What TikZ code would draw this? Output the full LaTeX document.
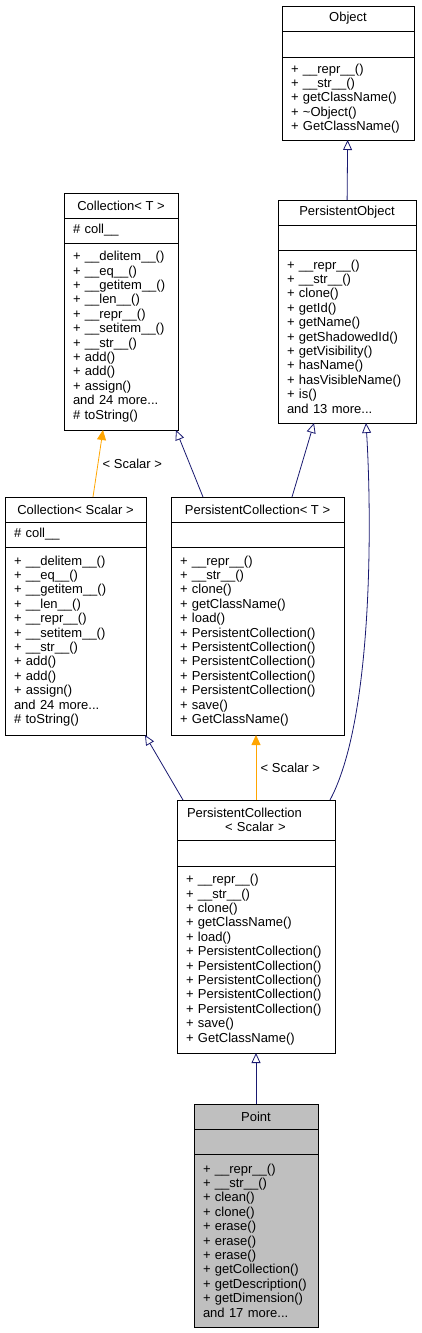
\documentclass[tikz,border=0pt]{standalone}
\usepackage{fontspec}
\setmainfont{Liberation Sans}
\usetikzlibrary{arrows.meta, positioning}

\definecolor{edgeblue}{HTML}{191970}
\definecolor{tmplorange}{HTML}{FFA500}
\definecolor{hilite}{HTML}{BFBFBF}

\begin{document}
\begin{tikzpicture}[x=1pt, y=-1pt,
  font=\fontsize{13}{14.4}\selectfont,
  part/.style={draw=black, line width=0.8pt, outer sep=0pt,
    inner xsep=9pt, inner ysep=0pt},
  head/.style={part, anchor=north west, align=center, minimum height=25pt},
  members/.style={part, align=left},
  inherit/.style={draw=edgeblue, line width=0.8pt,
    -{Triangle[open, length=10pt, width=9pt]}},
  tmpl/.style={draw=tmplorange, line width=0.8pt,
    -{Triangle[length=10pt, width=9pt]}}]

  \useasboundingbox (0,0) rectangle (421,1333);

  % Object (top right).
  \node[head, minimum width=132pt] (objHead) at (282,6) {Object};
  \node[members, below=0pt of objHead, text width=114pt, minimum height=26pt]
    (objAttr) {};
  \node[members, below=0pt of objAttr, text width=114pt, minimum height=83pt]
    (objMeth) {+ \_\_repr\_\_()\\+ \_\_str\_\_()\\+ getClassName()\\
      + \textasciitilde Object()\\+ GetClassName()};

  % PersistentObject.
  \node[head, minimum width=138pt] (poHead) at (278,200) {PersistentObject};
  \node[members, below=0pt of poHead, text width=120pt, minimum height=25pt]
    (poAttr) {};
  \node[members, below=0pt of poAttr, text width=120pt, minimum height=173pt]
    (poMeth) {+ \_\_repr\_\_()\\+ \_\_str\_\_()\\+ clone()\\+ getId()\\
      + getName()\\+ getShadowedId()\\+ getVisibility()\\+ hasName()\\
      + hasVisibleName()\\+ is()\\and 13 more...};

  % Collection< T >.
  \node[head, minimum width=114pt] (collTHead) at (64,193) {Collection< T >};
  \node[members, below=0pt of collTHead, text width=96pt, minimum height=25pt]
    (collTAttr) {\# coll\_\_};
  \node[members, below=0pt of collTAttr, text width=96pt, minimum height=187pt]
    (collTMeth) {+ \_\_delitem\_\_()\\+ \_\_eq\_\_()\\+ \_\_getitem\_\_()\\
      + \_\_len\_\_()\\+ \_\_repr\_\_()\\+ \_\_setitem\_\_()\\+ \_\_str\_\_()\\
      + add()\\+ add()\\+ assign()\\and 24 more...\\\# toString()};

  % Collection< Scalar >.
  \node[head, minimum width=141pt] (collSHead) at (5,497) {Collection< Scalar >};
  \node[members, below=0pt of collSHead, text width=123pt, minimum height=25pt]
    (collSAttr) {\# coll\_\_};
  \node[members, below=0pt of collSAttr, text width=123pt, minimum height=188pt]
    (collSMeth) {+ \_\_delitem\_\_()\\+ \_\_eq\_\_()\\+ \_\_getitem\_\_()\\
      + \_\_len\_\_()\\+ \_\_repr\_\_()\\+ \_\_setitem\_\_()\\+ \_\_str\_\_()\\
      + add()\\+ add()\\+ assign()\\and 24 more...\\\# toString()};

  % PersistentCollection< T >.
  \node[head, minimum width=173pt] (pcTHead) at (171,497)
    {PersistentCollection< T >};
  \node[members, below=0pt of pcTHead, text width=155pt, minimum height=25pt]
    (pcTAttr) {};
  \node[members, below=0pt of pcTAttr, text width=155pt, minimum height=188pt]
    (pcTMeth) {+ \_\_repr\_\_()\\+ \_\_str\_\_()\\+ clone()\\+ getClassName()\\
      + load()\\+ PersistentCollection()\\+ PersistentCollection()\\
      + PersistentCollection()\\+ PersistentCollection()\\
      + PersistentCollection()\\+ save()\\+ GetClassName()};

  % PersistentCollection< Scalar > (name broken over two lines).
  \node[head, align=left, text width=140pt, minimum height=40pt] (pcSHead)
    at (177,800) {\hspace*{1pt}PersistentCollection\\\hspace*{39pt}< Scalar >};
  \node[members, below=0pt of pcSHead, text width=140pt, minimum height=26pt]
    (pcSAttr) {};
  \node[members, below=0pt of pcSAttr, text width=140pt, minimum height=187pt]
    (pcSMeth) {+ \_\_repr\_\_()\\+ \_\_str\_\_()\\+ clone()\\+ getClassName()\\
      + load()\\+ PersistentCollection()\\+ PersistentCollection()\\
      + PersistentCollection()\\+ PersistentCollection()\\
      + PersistentCollection()\\+ save()\\+ GetClassName()};

  % Point (the highlighted class).
  \node[head, fill=hilite, minimum width=124pt] (ptHead) at (194,1104) {Point};
  \node[members, fill=hilite, below=0pt of ptHead, text width=106pt,
    minimum height=25pt] (ptAttr) {};
  \node[members, fill=hilite, below=0pt of ptAttr, text width=106pt,
    minimum height=173pt]
    (ptMeth) {+ \_\_repr\_\_()\\+ \_\_str\_\_()\\+ clean()\\+ clone()\\
      + erase()\\+ erase()\\+ erase()\\+ getCollection()\\
      + getDescription()\\+ getDimension()\\and 17 more...};

  % Inheritance edges.
  \draw[inherit] (poHead) -- (objMeth);
  \draw[inherit] ([xshift=32pt]pcTHead.north west)
    -- ([xshift=-2pt]collTMeth.south east);
  \draw[inherit] ([xshift=121pt]pcTHead.north west)
    -- ([xshift=36pt]poMeth.south west);
  \draw[inherit] ([xshift=6pt]pcSHead.north west)
    -- ([xshift=-1pt]collSMeth.south east);
  \draw[inherit] ([xshift=-5pt]pcSHead.north east)
    .. controls (373,720) and (372,520) .. ([xshift=-50pt]poMeth.south east);
  \draw[inherit] (ptHead) -- (pcSMeth);

  % Template instantiations.
  \draw[tmpl] ([xshift=88pt]collSHead.north west)
    -- node[right=1pt] (lblColl) {< Scalar >}
    ([xshift=39pt]collTMeth.south west);
  \draw[tmpl] (pcSHead.north) -- node[right=1pt] (lblPc) {< Scalar >}
    (pcSHead.north |- pcTMeth.south);

\end{tikzpicture}
\end{document}
